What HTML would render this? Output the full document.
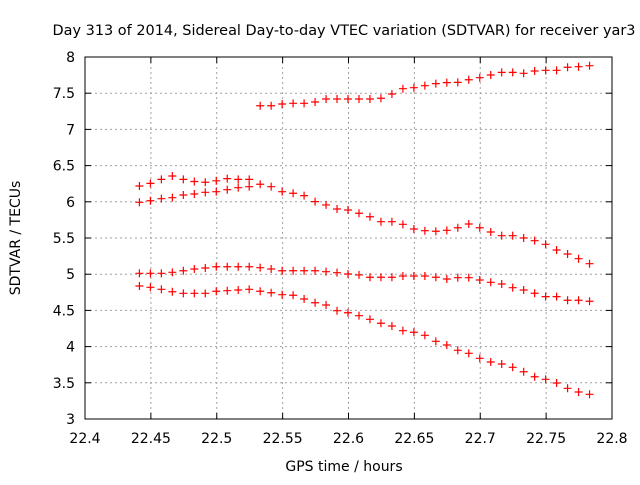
<!DOCTYPE html>
<html><head><meta charset="utf-8"><style>
body{margin:0;background:#fff;width:640px;height:480px;overflow:hidden}
svg text{font-family:"DejaVu Sans","Liberation Sans",sans-serif;font-size:14px;fill:#000}
</style></head><body>
<svg id="chart" width="640" height="480" xmlns="http://www.w3.org/2000/svg">
<rect width="640" height="480" fill="#fff"/>
<g id="grid"></g>
<g id="axes"></g>
<g id="marks"></g>
<text x="344" y="35" text-anchor="middle" textLength="583" lengthAdjust="spacingAndGlyphs">Day 313 of 2014, Sidereal Day-to-day VTEC variation (SDTVAR) for receiver yar3</text>
<text transform="translate(20,238) rotate(-90)" text-anchor="middle">SDTVAR / TECUs</text>
<text x="344" y="471" text-anchor="middle">GPS time / hours</text>
</svg>
<script>
const xTicks=[22.4,22.45,22.5,22.55,22.6,22.65,22.7,22.75,22.8];
const xTickLabels=["22.4","22.45","22.5","22.55","22.6","22.65","22.7","22.75","22.8"];
const yTicks=[3,3.5,4,4.5,5,5.5,6,6.5,7,7.5,8];
const yTickLabels=["3","3.5","4","4.5","5","5.5","6","6.5","7","7.5","8"];
const tStart=22.4413, tStep=0.008333;
const seriesA=[6.218,6.255,6.31,6.356,6.31,6.28,6.27,6.29,6.32,6.31,6.31];
const seriesAStart=0;
const seriesB=[7.327,7.327,7.351,7.36,7.36,7.378,7.42,7.42,7.42,7.42,7.42,7.43,7.489,7.562,7.576,7.604,7.632,7.646,7.65,7.686,7.714,7.751,7.788,7.788,7.775,7.807,7.816,7.816,7.858,7.866,7.88];
const seriesBStart=11;
const seriesC=[5.993,6.015,6.043,6.057,6.094,6.108,6.131,6.14,6.167,6.195,6.209,6.242,6.209,6.14,6.118,6.085,6.002,5.957,5.901,5.887,5.842,5.794,5.725,5.725,5.689,5.624,5.601,5.593,5.606,5.642,5.693,5.642,5.583,5.532,5.532,5.5,5.463,5.413,5.334,5.279,5.214,5.145];
const seriesD=[5.012,5.012,5.012,5.026,5.048,5.072,5.086,5.103,5.103,5.103,5.103,5.09,5.072,5.048,5.048,5.048,5.048,5.035,5.021,5.003,4.99,4.958,4.958,4.958,4.975,4.975,4.975,4.958,4.934,4.952,4.952,4.92,4.888,4.865,4.814,4.782,4.737,4.69,4.69,4.64,4.64,4.626];
const seriesE=[4.837,4.819,4.791,4.758,4.736,4.736,4.736,4.764,4.772,4.782,4.791,4.764,4.744,4.717,4.709,4.657,4.606,4.575,4.496,4.468,4.427,4.377,4.322,4.285,4.22,4.198,4.156,4.073,4.022,3.949,3.907,3.838,3.787,3.76,3.714,3.653,3.584,3.548,3.497,3.424,3.373,3.341];

const L=85,R=612,T=57,B=419;
const X=v=>L+(v-22.4)/0.4*(R-L);
const Y=v=>B-(v-3)/5*(B-T);
const NS="http://www.w3.org/2000/svg";
function mk(tag,attrs,parent){const e=document.createElementNS(NS,tag);for(const k in attrs)e.setAttribute(k,attrs[k]);parent.appendChild(e);return e;}
const grid=document.getElementById('grid'),axes=document.getElementById('axes'),marks=document.getElementById('marks');
xTicks.forEach((t,i)=>{
  const x=X(t);
  if(i>0&&i<xTicks.length-1){const g=mk('line',{x1:x,x2:x,y1:T,y2:B,stroke:'#a0a0a0','stroke-dasharray':'2,3'},grid);
  
  }
  mk('line',{x1:x,x2:x,y1:B,y2:B-6,stroke:'#000'},axes);
  mk('line',{x1:x,x2:x,y1:T,y2:T+6,stroke:'#000'},axes);
  const tx=mk('text',{x:x,y:443,'text-anchor':'middle'},axes);tx.textContent=xTickLabels[i];
  
  
});
yTicks.forEach((t,i)=>{
  const y=Y(t);
  if(i>0&&i<yTicks.length-1){const g=mk('line',{x1:L,x2:R,y1:y,y2:y,stroke:'#a0a0a0','stroke-dasharray':'2,3'},grid);
  
  }
  mk('line',{x1:L,x2:L+6,y1:y,y2:y,stroke:'#000'},axes);
  mk('line',{x1:R,x2:R-6,y1:y,y2:y,stroke:'#000'},axes);
  const tx=mk('text',{x:L-10,y:y+5,'text-anchor':'end'},axes);tx.textContent=yTickLabels[i];
  
  
});
const fr=mk('rect',{x:L,y:T,width:R-L,height:B-T,fill:'none',stroke:'#000'},axes);


function plot(vals,start,name){
  vals.forEach((v,i)=>{
    const x=X(tStart+(start+i)*tStep),y=Y(v);
    const p=mk('path',{d:`M${x-4},${y}H${x+4}M${x},${y-4}V${y+4}`,stroke:'#ff0000','stroke-width':1.2,fill:'none'},marks);
    
    
  });
}
plot(seriesA,seriesAStart,'point-series-a');
plot(seriesB,seriesBStart,'point-series-b');
plot(seriesC,0,'point-series-c');
plot(seriesD,0,'point-series-d');
plot(seriesE,0,'point-series-e');
</script>
</body></html>
